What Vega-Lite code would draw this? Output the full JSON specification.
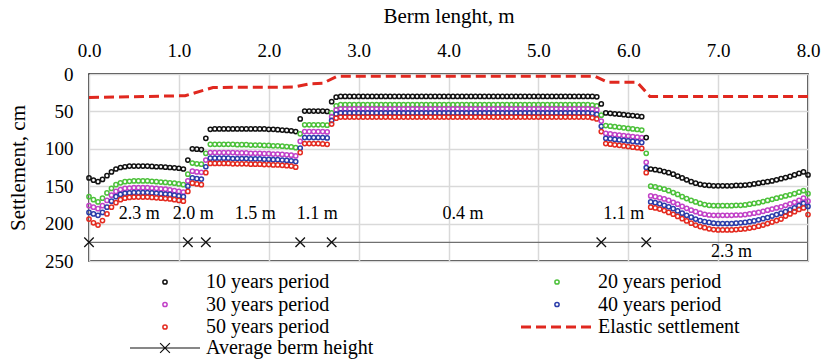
{
  "$schema": "https://vega.github.io/schema/vega-lite/v6.json",
  "autosize": "none",
  "width": 719,
  "height": 187,
  "padding": {"left": 89, "top": 74, "right": 18, "bottom": 100},
  "background": "white",
  "config": {
    "font": "'Liberation Serif', 'Times New Roman', serif",
    "view": {"stroke": "#000", "strokeWidth": 1.5},
    "axis": {"labelFont": "'Liberation Serif', 'Times New Roman', serif", "titleFont": "'Liberation Serif', 'Times New Roman', serif", "titleFontWeight": "normal", "labelColor": "#000", "titleColor": "#000", "gridColor": "#d9d9d9", "gridWidth": 1.5},
    "legend": {"labelFont": "'Liberation Serif', 'Times New Roman', serif", "labelFontSize": 20, "labelColor": "#000", "labelLimit": 400, "title": null},
    "text": {"font": "'Liberation Serif', 'Times New Roman', serif"}
  },
  "datasets": {
    "s": [
      {"x":0,"a":139,"b":164,"c":176,"d":185,"e":194},
      {"x":0.05,"a":142,"b":168,"c":178,"d":187,"e":199},
      {"x":0.1,"a":144,"b":171,"c":180,"d":189,"e":202},
      {"x":0.15,"a":141,"b":166,"c":176,"d":185,"e":196},
      {"x":0.2,"a":136,"b":159,"c":169,"d":178,"e":187},
      {"x":0.25,"a":131,"b":153,"c":162,"d":170,"e":178},
      {"x":0.3,"a":127,"b":148,"c":157,"d":164,"e":172},
      {"x":0.35,"a":125,"b":145.5,"c":154.5,"d":161,"e":168},
      {"x":0.4,"a":124,"b":144,"c":153,"d":159.5,"e":166},
      {"x":0.45,"a":123,"b":143.5,"c":152.5,"d":159,"e":165},
      {"x":0.5,"a":123,"b":143,"c":152,"d":158.5,"e":164.5},
      {"x":0.55,"a":123,"b":143,"c":152,"d":158.5,"e":164.5},
      {"x":0.6,"a":123,"b":143,"c":152,"d":158.5,"e":164.5},
      {"x":0.65,"a":123,"b":143,"c":152,"d":158.5,"e":164.5},
      {"x":0.7,"a":123.5,"b":143.5,"c":152.5,"d":159,"e":165},
      {"x":0.75,"a":124,"b":144,"c":153,"d":159.5,"e":165.5},
      {"x":0.8,"a":124,"b":144.5,"c":153.5,"d":160,"e":166},
      {"x":0.85,"a":124.5,"b":145,"c":154,"d":160.5,"e":166.5},
      {"x":0.9,"a":125,"b":145.5,"c":155,"d":161,"e":167},
      {"x":0.95,"a":125.5,"b":146,"c":156,"d":162,"e":168},
      {"x":1.0,"a":126,"b":147,"c":157,"d":163,"e":169},
      {"x":1.05,"a":127,"b":148,"c":158,"d":164,"e":170},
      {"x":1.1,"a":115,"b":134,"c":143,"d":150,"e":157},
      {"x":1.15,"a":100,"b":119,"c":130,"d":139,"e":146},
      {"x":1.2,"a":100.5,"b":120,"c":131,"d":140,"e":147},
      {"x":1.25,"a":101,"b":120.5,"c":131.5,"d":140.5,"e":148},
      {"x":1.3,"a":86,"b":106,"c":115,"d":124,"e":132},
      {"x":1.35,"a":74,"b":94,"c":105,"d":112.5,"e":119.5},
      {"x":1.4,"a":73.5,"b":94,"c":105,"d":112.5,"e":119.5},
      {"x":1.45,"a":73.5,"b":94,"c":105,"d":112.5,"e":119.5},
      {"x":1.5,"a":73.5,"b":94,"c":105,"d":112.5,"e":119.5},
      {"x":1.55,"a":73.5,"b":94,"c":105,"d":112.5,"e":119.5},
      {"x":1.6,"a":73.5,"b":94,"c":105,"d":113,"e":120},
      {"x":1.65,"a":73.5,"b":94.5,"c":105.5,"d":113,"e":120},
      {"x":1.7,"a":73.5,"b":94.5,"c":105.5,"d":113,"e":120},
      {"x":1.75,"a":73.5,"b":94.5,"c":105.5,"d":113,"e":120},
      {"x":1.8,"a":73.5,"b":95,"c":106,"d":113.5,"e":120.5},
      {"x":1.85,"a":73.5,"b":95,"c":106,"d":113.5,"e":120.5},
      {"x":1.9,"a":73.5,"b":95,"c":106,"d":113.5,"e":120.5},
      {"x":1.95,"a":73.5,"b":95.5,"c":106.5,"d":114,"e":121},
      {"x":2.0,"a":74,"b":95.5,"c":106.5,"d":114,"e":121},
      {"x":2.05,"a":74,"b":96,"c":107,"d":114.5,"e":121.5},
      {"x":2.1,"a":74.5,"b":96,"c":107,"d":114.5,"e":121.5},
      {"x":2.15,"a":75,"b":96.5,"c":107.5,"d":115,"e":122},
      {"x":2.2,"a":75.5,"b":97,"c":108,"d":115.5,"e":122.5},
      {"x":2.25,"a":76,"b":97.5,"c":108.5,"d":116,"e":123},
      {"x":2.3,"a":77,"b":98.5,"c":109.5,"d":117,"e":124.5},
      {"x":2.35,"a":60,"b":80,"c":90,"d":99,"e":105},
      {"x":2.4,"a":49.5,"b":68,"c":77,"d":85,"e":93},
      {"x":2.45,"a":49.5,"b":68,"c":77,"d":85,"e":93},
      {"x":2.5,"a":49.5,"b":68,"c":77,"d":85,"e":93},
      {"x":2.55,"a":49.5,"b":68,"c":77,"d":85,"e":93},
      {"x":2.6,"a":49.5,"b":68,"c":77,"d":85,"e":93.5},
      {"x":2.65,"a":50,"b":68.5,"c":77.5,"d":85.5,"e":94},
      {"x":2.7,"a":37,"b":52,"c":57,"d":62,"e":67},
      {"x":2.75,"a":31,"b":42.5,"c":48,"d":53.5,"e":59},
      {"x":2.8,"a":30,"b":41,"c":46.5,"d":52,"e":57.5},
      {"x":2.85,"a":30,"b":41,"c":46.5,"d":52,"e":57.5},
      {"x":2.9,"a":30,"b":41,"c":46.5,"d":52,"e":57.5},
      {"x":2.95,"a":30,"b":41,"c":46.5,"d":52,"e":57.5},
      {"x":3.0,"a":30,"b":41,"c":46.5,"d":52,"e":57.5},
      {"x":3.05,"a":30,"b":41,"c":46.5,"d":52,"e":57.5},
      {"x":3.1,"a":30,"b":41,"c":46.5,"d":52,"e":57.5},
      {"x":3.15,"a":30,"b":41,"c":46.5,"d":52,"e":57.5},
      {"x":3.2,"a":30,"b":41,"c":46.5,"d":52,"e":57.5},
      {"x":3.25,"a":30,"b":41,"c":46.5,"d":52,"e":57.5},
      {"x":3.3,"a":30,"b":41,"c":46.5,"d":52,"e":57.5},
      {"x":3.35,"a":30,"b":41,"c":46.5,"d":52,"e":57.5},
      {"x":3.4,"a":30,"b":41,"c":46.5,"d":52,"e":57.5},
      {"x":3.45,"a":30,"b":41,"c":46.5,"d":52,"e":57.5},
      {"x":3.5,"a":30,"b":41,"c":46.5,"d":52,"e":57.5},
      {"x":3.55,"a":30,"b":41,"c":46.5,"d":52,"e":57.5},
      {"x":3.6,"a":30,"b":41,"c":46.5,"d":52,"e":57.5},
      {"x":3.65,"a":30,"b":41,"c":46.5,"d":52,"e":57.5},
      {"x":3.7,"a":30,"b":41,"c":46.5,"d":52,"e":57.5},
      {"x":3.75,"a":30,"b":41,"c":46.5,"d":52,"e":57.5},
      {"x":3.8,"a":30,"b":41,"c":46.5,"d":52,"e":57.5},
      {"x":3.85,"a":30,"b":41,"c":46.5,"d":52,"e":57.5},
      {"x":3.9,"a":30,"b":41,"c":46.5,"d":52,"e":57.5},
      {"x":3.95,"a":30,"b":41,"c":46.5,"d":52,"e":57.5},
      {"x":4.0,"a":30,"b":41,"c":46.5,"d":52,"e":57.5},
      {"x":4.05,"a":30,"b":41,"c":46.5,"d":52,"e":57.5},
      {"x":4.1,"a":30,"b":41,"c":46.5,"d":52,"e":57.5},
      {"x":4.15,"a":30,"b":41,"c":46.5,"d":52,"e":57.5},
      {"x":4.2,"a":30,"b":41,"c":46.5,"d":52,"e":57.5},
      {"x":4.25,"a":30,"b":41,"c":46.5,"d":52,"e":57.5},
      {"x":4.3,"a":30,"b":41,"c":46.5,"d":52,"e":57.5},
      {"x":4.35,"a":30,"b":41,"c":46.5,"d":52,"e":57.5},
      {"x":4.4,"a":30,"b":41,"c":46.5,"d":52,"e":57.5},
      {"x":4.45,"a":30,"b":41,"c":46.5,"d":52,"e":57.5},
      {"x":4.5,"a":30,"b":41,"c":46.5,"d":52,"e":57.5},
      {"x":4.55,"a":30,"b":41,"c":46.5,"d":52,"e":57.5},
      {"x":4.6,"a":30,"b":41,"c":46.5,"d":52,"e":57.5},
      {"x":4.65,"a":30,"b":41,"c":46.5,"d":52,"e":57.5},
      {"x":4.7,"a":30,"b":41,"c":46.5,"d":52,"e":57.5},
      {"x":4.75,"a":30,"b":41,"c":46.5,"d":52,"e":57.5},
      {"x":4.8,"a":30,"b":41,"c":46.5,"d":52,"e":57.5},
      {"x":4.85,"a":30,"b":41,"c":46.5,"d":52,"e":57.5},
      {"x":4.9,"a":30,"b":41,"c":46.5,"d":52,"e":57.5},
      {"x":4.95,"a":30,"b":41,"c":46.5,"d":52,"e":57.5},
      {"x":5.0,"a":30,"b":41,"c":46.5,"d":52,"e":57.5},
      {"x":5.05,"a":30,"b":41,"c":46.5,"d":52,"e":57.5},
      {"x":5.1,"a":30,"b":41,"c":46.5,"d":52,"e":57.5},
      {"x":5.15,"a":30,"b":41,"c":46.5,"d":52,"e":57.5},
      {"x":5.2,"a":30,"b":41,"c":46.5,"d":52,"e":57.5},
      {"x":5.25,"a":30,"b":41,"c":46.5,"d":52,"e":57.5},
      {"x":5.3,"a":30,"b":41,"c":46.5,"d":52,"e":57.5},
      {"x":5.35,"a":30,"b":41,"c":46.5,"d":52,"e":57.5},
      {"x":5.4,"a":30,"b":41,"c":46.5,"d":52,"e":57.5},
      {"x":5.45,"a":30,"b":41,"c":46.5,"d":52,"e":57.5},
      {"x":5.5,"a":30,"b":41,"c":46.5,"d":52,"e":57.5},
      {"x":5.55,"a":30,"b":41,"c":46.5,"d":52,"e":57.5},
      {"x":5.6,"a":30,"b":41.5,"c":47,"d":52.5,"e":58.5},
      {"x":5.65,"a":30.5,"b":42.5,"c":48,"d":54,"e":60},
      {"x":5.7,"a":40,"b":55,"c":63,"d":70,"e":77},
      {"x":5.75,"a":52,"b":69,"c":79.5,"d":86,"e":93},
      {"x":5.8,"a":52.6,"b":69.7,"c":80.2,"d":86.7,"e":93.8},
      {"x":5.85,"a":53.2,"b":70.5,"c":80.9,"d":87.4,"e":94.6},
      {"x":5.9,"a":53.8,"b":71.2,"c":81.6,"d":88.1,"e":95.4},
      {"x":5.95,"a":54.4,"b":72,"c":82.3,"d":88.8,"e":96.2},
      {"x":6.0,"a":55,"b":72.7,"c":83,"d":89.5,"e":97},
      {"x":6.05,"a":55.6,"b":73.5,"c":83.7,"d":90.2,"e":97.8},
      {"x":6.1,"a":56.2,"b":74.2,"c":84.4,"d":90.9,"e":98.6},
      {"x":6.15,"a":57,"b":75,"c":85,"d":91.6,"e":99.5},
      {"x":6.2,"a":85,"b":106,"c":118,"d":125,"e":132},
      {"x":6.25,"a":127,"b":150,"c":163,"d":171,"e":178},
      {"x":6.3,"a":128,"b":151,"c":164,"d":172,"e":179},
      {"x":6.35,"a":129,"b":152.5,"c":165.5,"d":173.5,"e":180.5},
      {"x":6.4,"a":130.5,"b":154,"c":167,"d":175.5,"e":182.5},
      {"x":6.45,"a":132,"b":156,"c":169,"d":177.5,"e":185},
      {"x":6.5,"a":134,"b":158.5,"c":171.5,"d":180,"e":187.5},
      {"x":6.55,"a":136.5,"b":161,"c":174,"d":183,"e":190.5},
      {"x":6.6,"a":139,"b":164,"c":177,"d":186,"e":193.5},
      {"x":6.65,"a":141.5,"b":166.5,"c":179.5,"d":189,"e":196.5},
      {"x":6.7,"a":144,"b":169,"c":182,"d":191.5,"e":199.5},
      {"x":6.75,"a":146,"b":171,"c":184,"d":194,"e":202},
      {"x":6.8,"a":147.5,"b":173,"c":186,"d":196,"e":204},
      {"x":6.85,"a":148.5,"b":174.5,"c":187.5,"d":197.5,"e":205.5},
      {"x":6.9,"a":149,"b":175.5,"c":188.5,"d":198.5,"e":207},
      {"x":6.95,"a":149.5,"b":176,"c":189,"d":199.5,"e":208},
      {"x":7.0,"a":149.5,"b":176,"c":189,"d":200,"e":208.5},
      {"x":7.05,"a":149.5,"b":176,"c":189,"d":200,"e":208.5},
      {"x":7.1,"a":149.5,"b":176,"c":189,"d":200,"e":208.5},
      {"x":7.15,"a":149.5,"b":176,"c":189,"d":200,"e":208.5},
      {"x":7.2,"a":149,"b":175.5,"c":188.5,"d":199.5,"e":208},
      {"x":7.25,"a":149,"b":175.5,"c":188.5,"d":199,"e":207.5},
      {"x":7.3,"a":148.5,"b":175,"c":188,"d":198.5,"e":207},
      {"x":7.35,"a":148,"b":174,"c":187,"d":197.5,"e":206},
      {"x":7.4,"a":147,"b":173,"c":186,"d":196.5,"e":205},
      {"x":7.45,"a":146,"b":172,"c":185,"d":195,"e":203.5},
      {"x":7.5,"a":145,"b":170.5,"c":183.5,"d":193.5,"e":202},
      {"x":7.55,"a":144,"b":169,"c":182,"d":192,"e":200},
      {"x":7.6,"a":143,"b":167.5,"c":180.5,"d":190,"e":198},
      {"x":7.65,"a":141.5,"b":166,"c":179,"d":188,"e":196},
      {"x":7.7,"a":140,"b":164.5,"c":177.5,"d":186,"e":194},
      {"x":7.75,"a":138.5,"b":163,"c":175.5,"d":184,"e":190},
      {"x":7.8,"a":137,"b":161.5,"c":173.5,"d":181.5,"e":187},
      {"x":7.85,"a":135,"b":160,"c":171.5,"d":179,"e":184},
      {"x":7.9,"a":133,"b":158,"c":169,"d":176,"e":181},
      {"x":7.95,"a":131,"b":156,"c":166,"d":173,"e":179},
      {"x":8.0,"a":135,"b":160,"c":170,"d":177,"e":188}
    ],
    "elastic": [
      {"x":0,"y":31.5,"k":"elastic"},
      {"x":1.07,"y":29,"k":"elastic"},
      {"x":1.38,"y":18,"k":"elastic"},
      {"x":2.27,"y":17.5,"k":"elastic"},
      {"x":2.46,"y":13,"k":"elastic"},
      {"x":2.6,"y":12.5,"k":"elastic"},
      {"x":2.76,"y":3,"k":"elastic"},
      {"x":5.63,"y":3,"k":"elastic"},
      {"x":5.77,"y":11,"k":"elastic"},
      {"x":6.1,"y":11,"k":"elastic"},
      {"x":6.24,"y":30,"k":"elastic"},
      {"x":8.0,"y":30,"k":"elastic"}
    ],
    "bermline": [
      {"x":0,"y":225},
      {"x":8,"y":225}
    ],
    "berm": [
      {"x":0,"y":225,"k":"berm"},
      {"x":1.1,"y":225,"k":"berm"},
      {"x":1.3,"y":225,"k":"berm"},
      {"x":2.35,"y":225,"k":"berm"},
      {"x":2.7,"y":225,"k":"berm"},
      {"x":5.7,"y":225,"k":"berm"},
      {"x":6.2,"y":225,"k":"berm"}
    ],
    "labels": [
      {"x":0.56,"y":187,"t":"2.3 m"},
      {"x":1.16,"y":187,"t":"2.0 m"},
      {"x":1.85,"y":187,"t":"1.5 m"},
      {"x":2.54,"y":187,"t":"1.1 m"},
      {"x":4.16,"y":187,"t":"0.4 m"},
      {"x":5.95,"y":187,"t":"1.1 m"},
      {"x":7.15,"y":238,"t":"2.3 m"}
    ]
  },
  "encoding": {
    "x": {"field": "x", "type": "quantitative", "scale": {"domain": [0, 8], "nice": false, "zero": false},
      "axis": {"orient": "top", "title": "Berm lenght, m", "values": [0,1,2,3,4,5,6,7,8], "format": ".1f", "labelFlush": false, "labelFontSize": 19, "titleFontSize": 21, "labelPadding": 14, "titlePadding": 15, "ticks": false, "domain": false}},
    "y": {"field": "y", "type": "quantitative", "scale": {"domain": [0, 250], "reverse": true, "nice": false},
      "axis": {"title": "Settlement, cm", "values": [0,50,100,150,200,250], "labelFontSize": 19, "titleFontSize": 21, "labelPadding": 16, "titlePadding": 16, "ticks": false, "domain": false}}
  },
  "layer": [
    {
      "data": {"name": "bermline"},
      "mark": {"type": "line", "color": "#707070", "strokeWidth": 1.2},
      "encoding": {}
    },
    {
      "data": {"name": "s"},
      "transform": [{"fold": ["a", "b", "c", "d", "e"], "as": ["k", "y"]}],
      "mark": {"type": "point", "shape": "circle", "filled": false, "size": 18, "strokeWidth": 1.5, "opacity": 1},
      "encoding": {
        "color": {
          "field": "k", "type": "nominal",
          "scale": {"domain": ["a", "b", "c", "d", "e"], "range": ["#111111", "#4cc13a", "#c241c8", "#2b3daa", "#e42a1f"]},
          "legend": {
            "title": null, "orient": "none", "legendX": 66, "legendY": 198, "direction": "horizontal", "columns": 2, "columnPadding": 217, "rowPadding": 2.5,
            "labelOffset": 31, "symbolType": "circle", "symbolSize": 18, "symbolStrokeWidth": 1.5,
            "labelExpr": "datum.value === 'a' ? '10 years period' : datum.value === 'b' ? '20 years period' : datum.value === 'c' ? '30 years period' : datum.value === 'd' ? '40 years period' : '50 years period'"
          }
        }
      }
    },
    {
      "data": {"name": "elastic"},
      "mark": {"type": "line", "color": "#e0281f", "strokeWidth": 3},
      "encoding": {
        "strokeDash": {"field": "k", "type": "nominal", "scale": {"domain": ["elastic"], "range": [[10, 5]]},
          "legend": {"title": null, "orient": "none", "legendX": 430.5, "legendY": 215.5, "symbolType": "stroke", "symbolSize": 5184, "symbolStrokeWidth": 3, "symbolStrokeColor": "#e0281f", "labelOffset": 3.5, "labelExpr": "'Elastic settlement'"}}
      }
    },
    {
      "data": {"name": "berm"},
      "mark": {"type": "point", "shape": "M-1,-1L1,1M-1,1L1,-1", "filled": false, "size": 90, "strokeWidth": 1.3, "color": "#111111"},
      "encoding": {
        "opacity": {"field": "k", "type": "nominal", "scale": {"domain": ["berm"], "range": [1]},
          "legend": {"title": null, "orient": "none", "legendX": 40, "legendY": 238, "symbolType": "M-1,0L1,0M-0.14,-0.14L0.14,0.14M-0.14,0.14L0.14,-0.14", "symbolSize": 4900, "symbolStrokeWidth": 1.2, "symbolStrokeColor": "#111111", "symbolFillColor": "transparent", "labelOffset": 5, "labelExpr": "'Average berm height'"}}
      }
    },
    {
      "data": {"name": "labels"},
      "mark": {"type": "text", "font": "'Liberation Serif', 'Times New Roman', serif", "fontSize": 18, "color": "#000", "align": "center", "baseline": "middle"},
      "encoding": {"text": {"field": "t", "type": "nominal"}}
    }
  ]
}
